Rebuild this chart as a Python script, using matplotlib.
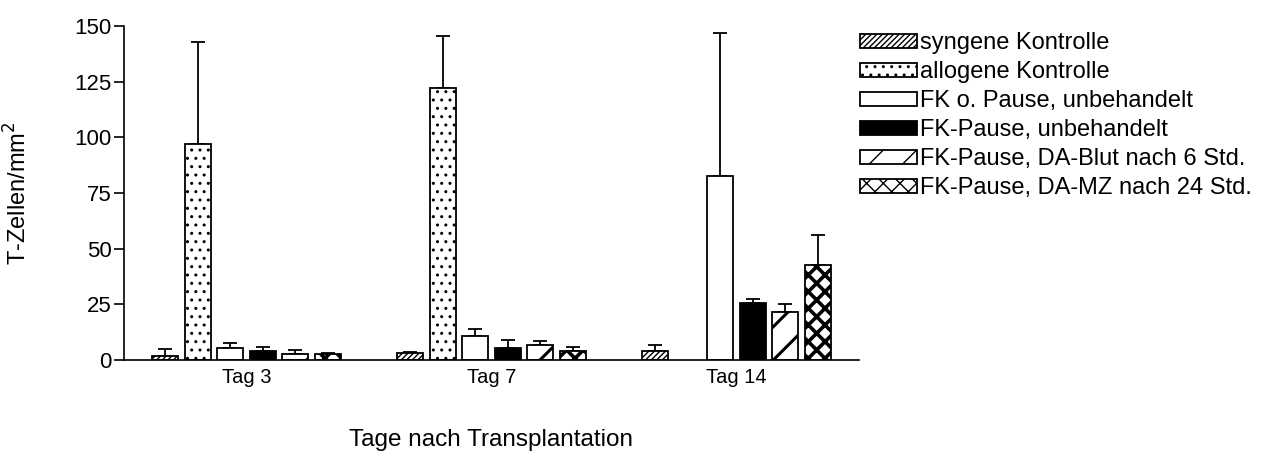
import matplotlib.pyplot as plt
import numpy as np

plt.rcParams['font.family'] = ['Liberation Sans', 'DejaVu Sans']

tage = ['Tag 3', 'Tag 7', 'Tag 14']
gruppen = ['syngene Kontrolle', 'allogene Kontrolle', 'FK o. Pause, unbehandelt',
           'FK-Pause, unbehandelt', 'FK-Pause, DA-Blut nach 6 Std.',
           'FK-Pause, DA-MZ nach 24 Std.']

# Mittelwerte je Gruppe (Tag 3, Tag 7, Tag 14)
syngen = [2.0, 3.0, 4.0]
allogen = [97.0, 122.0, np.nan]
fk_ohne_pause = [5.2, 10.8, 82.8]
fk_pause = [4.0, 5.4, 25.4]
da_blut = [2.5, 6.9, 21.4]
da_mz = [2.7, 3.9, 42.7]

# Fehlerbalken (nur nach oben)
syngen_err = [3.0, 0.5, 2.6]
allogen_err = [46.0, 23.4, np.nan]
fk_ohne_pause_err = [2.6, 3.3, 64.2]
fk_pause_err = [2.0, 3.6, 1.8]
da_blut_err = [2.0, 1.6, 3.6]
da_mz_err = [0.6, 2.1, 13.4]

werte = [syngen, allogen, fk_ohne_pause, fk_pause, da_blut, da_mz]
fehler = [syngen_err, allogen_err, fk_ohne_pause_err, fk_pause_err, da_blut_err, da_mz_err]
farben = ['white', 'white', 'white', 'black', 'white', 'white']
muster = ['//////', '..', None, None, '/', 'xx']
hatch_lw = [1.0, 1.0, 1.0, 1.0, 2.2, 2.6]

fig = plt.figure(figsize=(12.61, 4.57), dpi=100)
ax = fig.add_axes([124 / 1261, 1 - 360 / 457, 735 / 1261, 334 / 457])

x = np.arange(len(tage))
step = 32.5 / 245
breite = 26 / 245
for i in range(6):
    pos = x + (i - 2.5) * step
    bars = ax.bar(pos, werte[i], breite, color=farben[i], edgecolor='black',
                  linewidth=1.3, hatch=muster[i], label=gruppen[i], zorder=2)
    for b in bars:
        if hasattr(b, 'set_hatch_linewidth'):
            b.set_hatch_linewidth(hatch_lw[i])
    ax.errorbar(pos, werte[i], yerr=[np.zeros(3), fehler[i]], fmt='none',
                ecolor='black', elinewidth=1.3, capsize=5, capthick=1.3, zorder=1)

ax.set_xlim(-0.5, 2.5)
ax.set_ylim(0, 150)
ax.set_yticks([0, 25, 50, 75, 100, 125, 150])
ax.set_xticks(x)
ax.set_xticklabels(tage)
ax.tick_params(axis='x', length=0, pad=6, labelsize=14.5)
ax.tick_params(axis='y', length=7, width=1.2, pad=2, labelsize=16)
ax.spines['top'].set_visible(False)
ax.spines['right'].set_visible(False)
ax.spines['left'].set_linewidth(1.2)
ax.spines['bottom'].set_linewidth(1.2)

ax.set_ylabel('T-Zellen/mm$^2$', fontsize=17)
ax.yaxis.set_label_coords(-0.126, 0.5)
fig.text(491 / 1261, 1 - 440 / 457, 'Tage nach Transplantation', ha='center',
         va='center', fontsize=17.5)

ax.legend(loc='upper left', bbox_to_anchor=(860 / 1261, 1 - 32 / 457),
          bbox_transform=fig.transFigure, frameon=False, fontsize=17,
          handlelength=2.4, handleheight=0.55, handletextpad=0.15,
          labelspacing=0.3, borderaxespad=0, borderpad=0)

fig.savefig('out.png', dpi=100)
